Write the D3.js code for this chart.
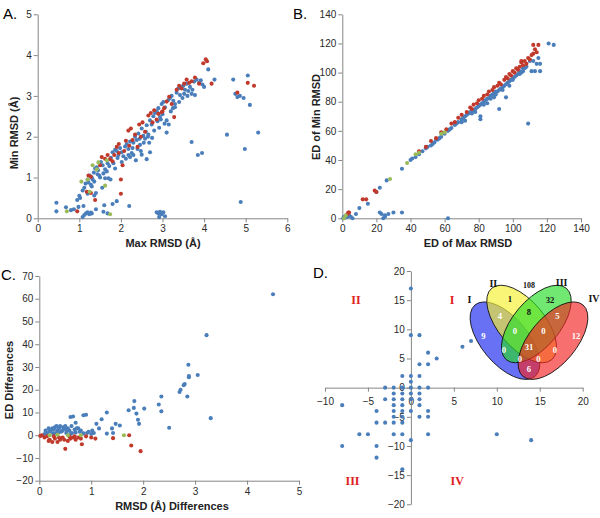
<!DOCTYPE html>
<html><head><meta charset="utf-8">
<script src="https://cdn.jsdelivr.net/npm/d3@7"></script>
<style>body{margin:0;background:#fff}svg{display:block}text{font-family:"Liberation Sans",Arial,sans-serif}</style>
</head><body><svg id="c" width="600" height="518"></svg>
<script>
// ---------- Panel A: Min RMSD vs Max RMSD ----------
const blueA = [[0.45,0.38],[0.45,0.17],[0.68,0.27],[0.8,0.2],[0.87,0.22],[0.95,0.45],[1.0,0.55],[1.02,0.5],[1.08,0.03],[1.12,0.08],[1.16,0.12],[1.2,0.15],[1.24,0.1],[1.28,0.14],[1.08,0.68],[1.12,0.75],[1.15,0.85],[1.2,0.95],[1.22,0.88],[1.25,1.05],[1.28,0.82],[1.3,1.0],[1.32,0.95],[1.35,1.12],[1.38,1.22],[1.42,1.25],[1.45,1.18],[1.48,1.05],[1.3,0.78],[1.4,0.62],[1.36,0.9],[1.5,1.0],[1.52,1.38],[1.56,1.3],[1.58,1.1],[1.62,1.2],[1.66,1.15],[1.7,0.98],[1.72,1.28],[1.76,1.48],[1.8,1.62],[1.82,1.35],[1.86,1.68],[1.9,1.65],[1.94,1.55],[1.98,1.72],[2.02,1.62],[2.06,1.52],[2.1,1.76],[2.14,1.82],[2.18,1.7],[2.22,1.88],[2.26,1.6],[2.3,1.85],[2.34,2.0],[2.38,1.92],[2.42,2.08],[2.46,1.8],[2.5,2.2],[2.54,2.02],[2.58,1.95],[2.62,2.28],[2.66,2.05],[2.7,2.4],[2.74,2.3],[2.78,2.5],[2.82,2.58],[2.86,2.62],[2.9,2.7],[2.94,2.48],[2.98,2.8],[3.02,2.85],[3.06,2.72],[3.1,2.4],[3.14,2.9],[3.18,2.95],[3.22,3.0],[3.26,2.88],[3.3,2.8],[3.34,3.08],[3.38,3.18],[3.42,3.02],[3.46,3.22],[3.5,3.25],[3.54,3.15],[3.58,3.3],[3.62,3.12],[3.66,3.22],[3.7,3.05],[3.76,3.35],[3.82,3.4],[3.88,3.32],[3.92,3.38],[3.96,3.28],[4.0,3.22],[4.1,3.65],[4.25,3.4],[4.55,2.05],[4.7,3.4],[4.75,3.05],[4.8,2.97],[4.86,3.0],[4.95,2.95],[4.98,1.7],[5.05,3.5],[5.1,2.78],[5.3,2.1],[4.88,0.4],[3.7,1.87],[3.85,1.55],[3.95,1.6],[2.86,0.15],[2.9,0.12],[2.94,0.16],[2.98,0.1],[3.02,0.15],[3.06,0.05],[2.92,0.03],[2.2,0.3],[1.6,0.32],[1.68,0.12],[1.8,0.35],[1.9,0.42],[1.58,0.16],[1.4,0.22],[1.3,0.12],[2.75,1.97],[2.62,1.45],[2.5,1.56],[2.36,1.42],[2.22,1.5],[2.12,1.46],[2.02,1.38],[1.86,1.22],[1.75,0.95],[1.55,0.75],[1.36,0.56],[3.1,2.1],[3.15,2.3],[3.05,2.32],[2.96,2.42],[3.3,2.72],[2.4,1.7],[2.55,1.85],[2.65,2.0],[2.7,1.62],[2.8,2.15],[2.88,2.38],[3.0,2.55],[3.2,2.62],[3.4,2.85],[3.48,2.95],[3.6,3.0],[3.72,3.15],[3.78,3.02],[3.52,3.05],[3.25,2.7],[2.92,2.22],[2.6,2.12],[2.45,1.95],[2.28,1.72],[2.18,1.55],[1.92,1.48],[1.68,1.35],[1.44,1.08],[1.62,0.98],[2.3,1.55],[2.48,1.65],[2.68,1.85],[1.2,0.6],[1.1,0.3],[0.98,0.28]];
const redA = [[0.95,0.17],[1.18,0.65],[1.22,1.05],[1.28,0.62],[1.38,0.45],[1.28,1.02],[1.5,1.3],[1.54,1.5],[1.62,1.46],[1.68,1.55],[1.74,1.45],[1.8,1.4],[1.84,1.55],[1.9,1.75],[1.95,1.6],[2.0,0.95],[2.0,0.6],[2.04,1.3],[2.08,1.65],[2.12,1.9],[2.18,2.15],[2.24,2.2],[2.28,1.92],[2.34,2.05],[2.4,1.75],[2.44,2.3],[2.52,2.35],[2.58,2.12],[2.66,2.52],[2.72,2.58],[2.8,2.65],[2.86,2.42],[2.9,2.56],[2.98,2.6],[3.04,2.7],[3.1,2.86],[3.16,2.98],[3.22,2.8],[3.28,2.48],[3.34,3.15],[3.4,3.25],[3.46,3.18],[3.52,3.3],[3.58,3.4],[3.64,3.32],[3.7,3.36],[3.78,3.45],[3.88,3.3],[3.98,3.8],[4.04,3.9],[4.07,3.85],[4.18,3.3],[4.8,3.08],[5.05,3.32],[5.2,3.25],[1.95,1.82],[2.2,1.78],[2.48,2.0],[2.76,2.35],[3.0,2.62]];
const greenA = [[0.7,0.17],[1.05,0.9],[1.2,0.95],[1.32,1.3],[1.42,1.2],[1.46,1.37],[1.62,0.8],[1.74,0.1],[1.66,1.42],[1.25,0.65]];
const ticksA_x = [0,1,2,3,4,5,6];
const ticksA_y = [0,1,2,3,4,5];

// ---------- Panel B: ED of Min RMSD vs ED of Max RMSD ----------
const blueB = [[0.5,0],[1,1],[2,0.5],[3,1],[4,2],[5,1],[6,0],[8,3],[10,7],[15,10],[20,18],[22,21],[26,26],[35,34],[22,4],[23,3],[25,2],[27,3],[30,4],[35,4],[25,1],[62,0],[24,0],[40,40],[41,41],[43,42],[45,44],[47,46],[49,48],[50,49],[52,50],[54,52],[55,54],[57,55],[58,56],[60,58],[62,60],[64,62],[66,64],[68,66],[70,68],[71,69],[72,70],[72,67],[73,71],[74,72],[75,73],[76,73.5],[77,74],[78,75],[79,76],[80,77],[81,78],[81,70],[81,68],[82,79],[83,80],[84,81],[85,82],[86,82.5],[87,84],[88,85],[89,86],[89,83],[90,87],[91,87],[92,88],[92,75],[93,89],[94,90],[95,91],[96,92],[96,83],[97,93],[98,94],[99,95],[100,96],[101,97],[102,98],[103,99],[104,99],[105,100],[106,101],[107,103],[108,104],[109,65],[110,108],[111,101],[113,101],[114,106],[115,110],[116,106],[116,101],[121,120],[124,119],[112,108],[104,101],[98,91],[90,85],[85,79],[78,73],[70,66],[53,51],[56,54],[63,61],[67,65],[76,72],[83,78],[87,82],[94,88],[100,95],[106,103]];
const redB = [[3,3],[4,4],[3.5,4],[12,13],[14,13],[19,19],[20,18],[45,46],[49,49],[52,53],[55,55],[58,59],[61,61],[64,65],[66,66],[68,69],[70,71],[73,73],[75,76],[76,75],[77,78],[79,79],[80,81],[82,82],[83,84],[85,85],[86,87],[88,88],[89,90],[91,91],[92,93],[93,92],[95,95],[96,97],[97,96],[98,99],[99,98],[100,101],[101,100],[102,103],[103,102],[104,104],[105,107],[106,105],[107,108],[108,106],[109,110],[110,109],[111,112],[112,113],[113,116],[112,119],[115,119],[114,114],[105,108]];
const greenB = [[1,0],[2,2],[28,27],[38,38],[43,44],[45,45],[58,58],[60,59]];
const ticksB = [0,20,40,60,80,100,120,140];

// ---------- Panel C: ED Differences vs RMSD Differences ----------
const blueC = [[4.5,62],[3.22,44],[3.3,7.5],[3.05,26.5],[2.87,31],[2.88,26],[2.88,25.5],[2.85,17],[2.8,22.5],[2.78,22],[2.72,20],[2.7,19],[2.35,17],[2.3,13.5],[2.35,10.5],[2.5,3.3],[2.02,11.7],[1.83,15],[1.82,12],[1.87,9.5],[1.9,6.8],[1.92,5],[1.72,11],[1.55,4.3],[1.47,5],[1.42,1],[1.4,3],[1.3,10],[1.3,0.7],[1.2,7],[1.1,5],[1.15,3],[1.05,1],[0.9,9],[0.85,8.8],[0.65,8.2],[0.6,8],[0.7,5.5],[0.15,1],[0.2,2],[0.22,1.5],[0.25,3],[0.28,2.5],[0.3,3.5],[0.32,1],[0.35,2],[0.38,3],[0.4,4],[0.42,1.5],[0.45,2],[0.48,3],[0.5,4],[0.52,1],[0.55,3],[0.58,2],[0.62,4],[0.68,2.5],[0.72,3],[0.75,3],[0.78,1.5],[0.8,2],[0.92,1],[0.95,1.5],[1.0,0.5],[1.02,2],[0.1,0.5],[0.18,3],[0.33,4],[0.46,3.5],[0.63,1],[0.7,1.2],[0.27,0.8],[0.37,1.2],[0.53,2.2],[0.6,0.5],[0.85,0.8],[0.12,2]];
const redC = [[0.5,-6],[0.82,-4],[1.08,-1.5],[1.42,-1.3],[1.73,0],[1.77,-4.5],[1.95,-7],[0.1,-1],[0.2,-2],[0.25,-3],[0.3,-1.5],[0.35,-3],[0.4,-2],[0.45,-1],[0.55,-2.5],[0.6,-1.5],[0.65,-1],[0.7,-2],[0.75,-1],[0.15,-0.5],[0.05,0],[0.9,-0.5],[1.0,-1],[0.18,-2.5],[0.28,-0.5],[0.38,-1],[0.48,-2],[0.58,-0.5],[0.68,-0.5],[0.8,-1.5],[0.02,-0.3]];
const greenC = [[0.2,0],[0.55,0],[0.8,0],[1.63,0],[0.35,0.2]];
const ticksC_x = [0,1,2,3,4,5];
const ticksC_y = [-20,-10,0,10,20,30,40,50,60,70];

// ---------- Panel D ----------
const blueD = [[0,17],[0,9],[1,9],[7,8],[6,7],[2,6],[3,5],[1,4],[2,4],[0,2],[1,2],[-1,2],[0,1],[-3,0],[-2,0],[-1,0],[0,0],[1,0],[2,0],[-8,-3],[-8,-10],[-6,-8],[-5,-8],[-4,-4],[-4,-6],[-4,-10],[-4,-12],[-3,-2],[-3,-6],[-2,-1],[-2,-2],[-2,-3],[-2,-4],[-2,-5],[-2,-6],[-2,-8],[-1,-1],[-1,-2],[-1,-3],[-1,-4],[-1,-5],[-1,-6],[-1,-8],[-1,-14],[0,-2],[0,-4],[0,-9],[0,-1],[1,-1],[1,-2],[1,-3],[1,-5],[2,-4],[2,-5],[2,-8],[10,-8],[14,-9]];
const ticksD_x = [-10,-5,0,5,10,15,20];
const ticksD_y = [-20,-15,-10,-5,0,5,10,15,20];
const quadrants = ["I","II","III","IV"];
const quadPos = [[4.8,15],[-6.4,15],[-6.8,-16],[5.4,-16]];

// Venn
const vennSets = ["I","II","III","IV"];
const vennColors = ["#1a28ee","#f4f030","#28dc28","#f42424"];
const vennCounts = [
 {n:"9",p:[100,198],c:"#fff"},{n:"1",p:[180,88],c:"#111"},{n:"32",p:[300,92],c:"#111"},{n:"12",p:[378,198],c:"#fff"},
 {n:"4",p:[150,140],c:"#fff"},{n:"8",p:[237,128],c:"#111"},{n:"5",p:[322,140],c:"#fff"},
 {n:"0",p:[195,185],c:"#fff"},{n:"0",p:[280,185],c:"#fff"},{n:"0",p:[162,242],c:"#fff"},{n:"31",p:[237,232],c:"#fff"},
 {n:"0",p:[315,242],c:"#fff"},{n:"0",p:[210,268],c:"#fff"},{n:"0",p:[265,268],c:"#fff"},{n:"6",p:[237,297],c:"#fff"}
];
const vennTotal = "108";

const BLUE="#4a7ebb", RED="#c0392b", GREEN="#9bbb59";
const svg = d3.select("#c");
const axisCol="#868686", tickTxt="#2a2a2a";
const fmt = d3.format("d");

function styleAxis(g){
  g.selectAll(".domain").attr("stroke",axisCol);
  g.selectAll(".tick line").attr("stroke",axisCol);
  g.selectAll(".tick text").attr("fill",tickTxt).style("font-size","10px").style("font-family","Liberation Sans, Arial, sans-serif");
}
function dots(data,x,y,col){
  svg.append("g").selectAll("circle").data(data).join("circle")
    .attr("cx",d=>x(d[0])).attr("cy",d=>y(d[1])).attr("r",2.05).attr("fill",col);
}
function label(txt,x,y,opts={}){
  const t=svg.append("text").attr("x",x).attr("y",y).text(txt)
   .attr("font-size",opts.size||"11px").attr("font-weight",opts.weight||"bold")
   .attr("text-anchor",opts.anchor||"middle").attr("fill",opts.fill||"#222");
  if(opts.rot) t.attr("transform",`rotate(-90,${x},${y})`);
  if(opts.family) t.style("font-family",opts.family);
  return t;
}
const bottom=(s,t)=>d3.axisBottom(s).tickValues(t).tickFormat(fmt).tickSize(4).tickPadding(3).tickSizeOuter(0);
const left=(s,t)=>d3.axisLeft(s).tickValues(t).tickFormat(fmt).tickSize(4).tickPadding(2).tickSizeOuter(0);

// Panel A
{
 const x=d3.scaleLinear().domain([0,6]).range([37.7,287.3]);
 const y=d3.scaleLinear().domain([0,5]).range([218.3,14.3]);
 svg.append("g").attr("transform","translate(0,218.3)").call(bottom(x,ticksA_x)).call(styleAxis);
 svg.append("g").attr("transform","translate(37.7,0)").call(left(y,ticksA_y)).call(styleAxis);
 dots(blueA,x,y,BLUE); dots(redA,x,y,RED); dots(greenA,x,y,GREEN);
 label("Max RMSD (Å)",163,247);
 label("Min RMSD (Å)",18,133,{rot:true});
 label("A.",3,19,{size:"15px",weight:"normal",anchor:"start",fill:"#000"});
}
// Panel B
{
 const x=d3.scaleLinear().domain([0,140]).range([342.3,581]);
 const y=d3.scaleLinear().domain([0,140]).range([218.3,14.3]);
 svg.append("g").attr("transform","translate(0,218.3)").call(bottom(x,ticksB)).call(styleAxis);
 svg.append("g").attr("transform","translate(342.3,0)").call(left(y,ticksB)).call(styleAxis);
 dots(blueB,x,y,BLUE); dots(redB,x,y,RED); dots(greenB,x,y,GREEN);
 label("ED of Max RMSD",468,247);
 label("ED of Min RMSD",320,117,{rot:true});
 label("B.",293,19,{size:"15px",weight:"normal",anchor:"start",fill:"#000"});
}
// Panel C
{
 const x=d3.scaleLinear().domain([0,5]).range([39.3,299]);
 const y=d3.scaleLinear().domain([-20,70]).range([480.7,276]);
 svg.append("g").attr("transform","translate(0,480.7)").call(bottom(x,ticksC_x)).call(styleAxis);
 svg.append("g").attr("transform","translate(39.3,0)").call(left(y,ticksC_y)).call(styleAxis);
 dots(blueC,x,y,BLUE); dots(redC,x,y,RED); dots(greenC,x,y,GREEN);
 label("RMSD (Å) Differences",172,510);
 label("ED Differences",13,380,{rot:true});
 label("C.",1,280,{size:"15px",weight:"normal",anchor:"start",fill:"#000"});
}
// Panel D
{
 const x=d3.scaleLinear().domain([-10,20]).range([325,582.7]);
 const y=d3.scaleLinear().domain([-20,20]).range([504.3,271]);
 const gx=svg.append("g").attr("transform",`translate(0,${y(0)})`).call(bottom(x,ticksD_x)).call(styleAxis);
 gx.selectAll(".tick text").attr("dy","1.05em");
 svg.append("g").attr("transform",`translate(${x(0)},0)`).call(left(y,ticksD_y)).call(styleAxis);
 dots(blueD,x,y,BLUE);
 quadrants.forEach((q,i)=>label(q,x(quadPos[i][0]),y(quadPos[i][1])+4,{size:"12px",fill:"#e0201c",family:"Liberation Serif, Times New Roman, serif"}));
 label("D.",313,278,{size:"15px",weight:"normal",anchor:"start",fill:"#000"});

 // Venn inset (layout in local units, origin at 450,270, scale 1/3)
 const vg=svg.append("g").attr("transform","translate(450,270) scale(0.3333)");
 const ell=[{cx:165,cy:212,a:50},{cx:215,cy:162,a:50},{cx:259,cy:162,a:-50},{cx:309,cy:212,a:-50}];
 vg.selectAll("ellipse").data(ell).join("ellipse")
   .attr("cx",0).attr("cy",0).attr("rx",140).attr("ry",70)
   .attr("transform",d=>`translate(${d.cx},${d.cy}) rotate(${d.a})`)
   .attr("fill",(d,i)=>vennColors[i]).attr("fill-opacity",0.66)
   .attr("stroke","#111").attr("stroke-width",2.5);
 const setPos=[[58,100],[130,50],[335,48],[432,96]];
 vennSets.forEach((s,i)=>vg.append("text").attr("x",setPos[i][0]).attr("y",setPos[i][1]).text(s)
   .attr("text-anchor","middle").attr("font-size",30).attr("font-weight","bold").style("font-family","Liberation Serif, serif").attr("fill","#111"));
 vg.append("text").attr("x",237).attr("y",55).text(vennTotal).attr("text-anchor","middle").attr("font-size",24).attr("font-weight","bold").style("font-family","Liberation Serif, serif").attr("fill","#111");
 vg.selectAll("text.cnt").data(vennCounts).join("text").attr("class","cnt")
   .attr("x",d=>d.p[0]).attr("y",d=>d.p[1]+8).text(d=>d.n)
   .attr("text-anchor","middle").attr("font-size",26).attr("font-weight","bold").style("font-family","Liberation Serif, serif").attr("fill",d=>d.c);
}
</script></body></html>
